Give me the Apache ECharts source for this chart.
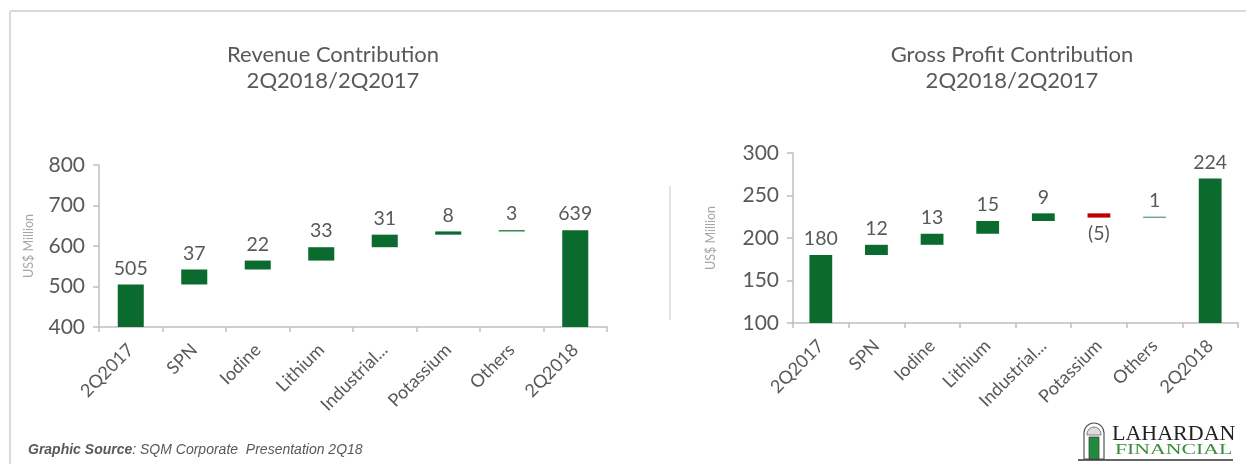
<!DOCTYPE html>
<html>
<head>
<meta charset="utf-8">
<script src="https://cdn.jsdelivr.net/npm/echarts@6/dist/echarts.min.js"></script>
<style>
html,body{margin:0;padding:0;background:#fff;}
#main{width:1246px;height:464px;}
</style>
</head>
<body>
<div id="main"></div>
<script>
// ---- data ----
const categories = ['2Q2017', 'SPN', 'Iodine', 'Lithium', 'Industrial...', 'Potassium', 'Others', '2Q2018'];
const revenueValues = [505, 37, 22, 33, 31, 8, 3, 639];
const grossProfitValues = [180, 12, 13, 15, 9, -5, 1, 224];
// the 2Q2018 gross-profit bar is drawn taller than its label in the picture
const grossProfitFinalBarTop = 270;
const revenueTicks = { min: 400, max: 800, interval: 100 };
const grossProfitTicks = { min: 100, max: 300, interval: 50 };

const GREEN = '#0B6A2E', RED = '#C00000', TXT = '#595959', AX = '#BFBFBF';

function waterfall(values, finalTop) {
  const base = [], delta = [];
  let cum = 0;
  values.forEach((v, i) => {
    if (i === 0) { base.push(0); delta.push({ value: v, raw: v }); cum = v; }
    else if (i === values.length - 1) { base.push(0); delta.push({ value: finalTop != null ? finalTop : v, raw: v }); }
    else if (v >= 0) { base.push(cum); delta.push({ value: v, raw: v }); cum += v; }
    else { cum += v; base.push(cum); delta.push({ value: -v, raw: v, itemStyle: { color: RED }, label: { position: 'bottom' } }); }
  });
  return { base, delta };
}
const rev = waterfall(revenueValues);
const gp = waterfall(grossProfitValues, grossProfitFinalBarTop);

const FONT = 'Lato';
function xAxis(gi) {
  return {
    type: 'category', gridIndex: gi, data: categories,
    axisLine: { lineStyle: { color: AX, width: 1.5 } },
    axisTick: { show: true, length: 5, lineStyle: { color: AX, width: 1.5 } },
    axisLabel: { rotate: 45, interval: 0, color: TXT, fontSize: 18, fontFamily: FONT, margin: 20 }
  };
}
function yAxis(gi, t, gap) {
  return {
    type: 'value', gridIndex: gi, min: t.min, max: t.max, interval: t.interval,
    name: 'US$ Million', nameLocation: 'middle', nameGap: gap, nameRotate: 90,
    nameTextStyle: { color: '#A6A6A6', fontSize: 12.5, fontFamily: FONT },
    axisLine: { show: true, lineStyle: { color: AX, width: 1.5 } },
    axisTick: { show: true, length: 6, lineStyle: { color: AX, width: 1.5 } },
    splitLine: { show: false },
    axisLabel: { color: TXT, fontSize: 21, fontFamily: FONT, margin: 14 }
  };
}
function series(gi, wf) {
  return [
    { type: 'bar', xAxisIndex: gi, yAxisIndex: gi, stack: 's' + gi, data: wf.base,
      itemStyle: { color: 'transparent' }, barWidth: '41%', silent: true },
    { type: 'bar', xAxisIndex: gi, yAxisIndex: gi, stack: 's' + gi, data: wf.delta,
      itemStyle: { color: GREEN }, barWidth: '41%',
      label: { show: true, position: 'top', distance: 6, color: TXT, fontSize: 19.5, fontFamily: FONT,
        formatter: p => { const r = p.data.raw; return r < 0 ? '(' + (-r) + ')' : String(r); } } }
  ];
}
const titleStyle = { color: TXT, fontSize: 22, fontFamily: FONT, fontWeight: 'normal', lineHeight: 26, align: 'center' };

const chart = echarts.init(document.getElementById('main'), null, { renderer: 'canvas' });
chart.setOption({
  animation: false,
  backgroundColor: '#fff',
  title: [
    { text: 'Revenue Contribution\n2Q2018/2Q2017', left: 328, top: 37, textAlign: 'center', textStyle: titleStyle },
    { text: 'Gross Profit Contribution\n2Q2018/2Q2017', left: 1007, top: 37, textAlign: 'center', textStyle: titleStyle }
  ],
  grid: [
    { left: 99, right: 639, top: 165, bottom: 137 },
    { left: 793, right: 8, top: 153, bottom: 141 }
  ],
  xAxis: [xAxis(0), xAxis(1)],
  yAxis: [yAxis(0, revenueTicks, 64), yAxis(1, grossProfitTicks, 76)],
  series: [...series(0, rev), ...series(1, gp)],
  graphic: [
    { type: 'line', shape: { x1: 10, y1: 11, x2: 1246, y2: 11 }, style: { stroke: '#D9D9D9', lineWidth: 2 } },
    { type: 'line', shape: { x1: 10, y1: 11, x2: 10, y2: 464 }, style: { stroke: '#D9D9D9', lineWidth: 2 } },
    { type: 'line', shape: { x1: 670, y1: 186, x2: 670, y2: 320 }, style: { stroke: '#E3E3E3', lineWidth: 2 } },
    { type: 'text', left: 28, top: 443, style: {
        text: '{b|Graphic Source}{i|: SQM Corporate  Presentation 2Q18}',
        rich: {
          b: { fontFamily: 'Liberation Sans', fontStyle: 'italic', fontWeight: 'bold', fontSize: 14, fill: TXT },
          i: { fontFamily: 'Liberation Sans', fontStyle: 'italic', fontSize: 14, fill: TXT }
        } } },
    // logo
    { type: 'rect', shape: { x: 1084, y: 423, width: 20, height: 36, r: [10, 10, 0, 0] }, style: { fill: '#fff', stroke: '#555', lineWidth: 1.2 } },
    { type: 'rect', shape: { x: 1087, y: 427, width: 14, height: 8, r: [7, 7, 0, 0] }, style: { fill: '#ddd', stroke: '#666', lineWidth: 0.8 } },
    { type: 'rect', shape: { x: 1089, y: 437, width: 10, height: 22 }, style: { fill: '#1E8C3A', stroke: '#444', lineWidth: 0.8 } },
    { type: 'text', left: 1112, top: 423, style: { text: 'LAHARDAN', fontFamily: 'Liberation Serif', fontSize: 22, fill: '#222' } },
    { type: 'text', left: 1115, top: 443, scaleX: 1.45, style: { text: 'FINANCIAL', fontFamily: 'Liberation Serif', fontSize: 15, fill: '#3C8B3C' } },
    { type: 'line', shape: { x1: 1078, y1: 460, x2: 1233, y2: 460 }, style: { stroke: '#333', lineWidth: 1.5 } }
  ]
});
</script>
</body>
</html>
